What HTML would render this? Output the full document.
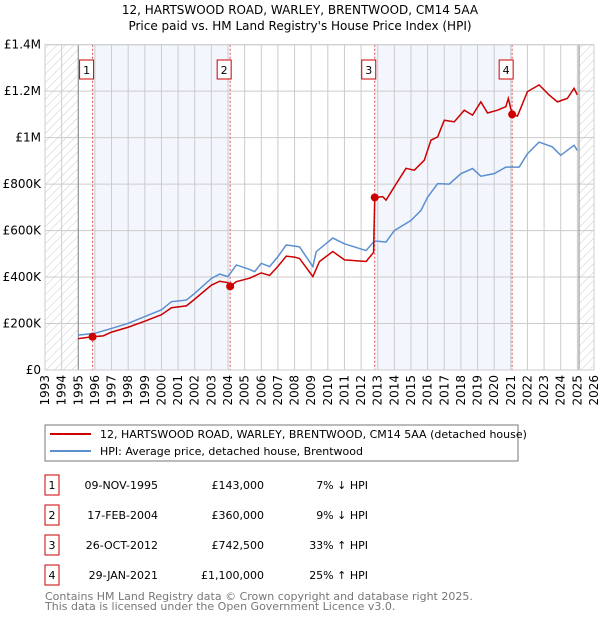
<!DOCTYPE html>
<html><head><meta charset="utf-8"><style>
body{margin:0;background:#fff;font-family:"DejaVu Sans","Liberation Sans",sans-serif;}
svg text{font-family:"DejaVu Sans","Liberation Sans",sans-serif;}
</style></head><body>
<svg id="c" width="600" height="620" xmlns="http://www.w3.org/2000/svg">
<defs><pattern id="h" width="6" height="6" patternUnits="userSpaceOnUse" patternTransform="rotate(45)"><line x1="0" y1="0" x2="0" y2="6" stroke="#ccc" stroke-width="1"/></pattern></defs>
<text x="300" y="14" text-anchor="middle" font-size="12">12, HARTSWOOD ROAD, WARLEY, BRENTWOOD, CM14 5AA</text>
<text x="300" y="30" text-anchor="middle" font-size="12">Price paid vs. HM Land Registry's House Price Index (HPI)</text>
<g id="plot"></g>
<rect x="45" y="425" width="473" height="36" fill="#fff" stroke="#777"/>
<line x1="50" y1="434" x2="91" y2="434" stroke="#cc0000" stroke-width="2"/>
<text x="100" y="438" font-size="11">12, HARTSWOOD ROAD, WARLEY, BRENTWOOD, CM14 5AA (detached house)</text>
<line x1="50" y1="451" x2="91" y2="451" stroke="#5b8fd0" stroke-width="2"/>
<text x="100" y="455" font-size="11">HPI: Average price, detached house, Brentwood</text>
<g id="tbl" font-size="11"></g>
<text x="45" y="600" font-size="11" fill="#777">Contains HM Land Registry data © Crown copyright and database right 2025.</text>
<text x="45" y="610" font-size="11" fill="#777">This data is licensed under the Open Government Licence v3.0.</text>
</svg>
<script>
const hpiYears=[1995,1996,1997,1998,1999,2000,2000.6,2001.5,2002,2003,2003.5,2004,2004.5,2005.3,2005.6,2006,2006.5,2007,2007.5,2008,2008.3,2009.1,2009.3,2010.3,2011,2012.3,2012.8,2013.5,2014,2015,2015.6,2016,2016.6,2017.3,2018,2018.7,2019.2,2020,2020.7,2021.5,2022,2022.7,2023.5,2024,2024.8,2025];
const hpiValues=[150,158,179,201,230,259,294,301,330,394,413,402,452,433,423,459,445,488,538,533,530,445,509,568,543,514,555,551,600,644,687,744,802,800,845,867,834,845,873,873,931,981,960,924,967,945];
const redYears=[1995,1995.86,1996.5,1997,1998,1999,2000,2000.6,2001.5,2002,2003,2003.5,2004.0,2004.13,2004.5,2005.3,2006,2006.5,2007,2007.5,2008,2008.3,2009.1,2009.5,2010.3,2011,2012.3,2012.75,2012.82,2013.3,2013.5,2014,2014.7,2015.2,2015.8,2016.2,2016.6,2017,2017.6,2018.2,2018.7,2019.2,2019.6,2020.2,2020.7,2020.85,2021.08,2021.4,2022,2022.7,2023.3,2023.8,2024.4,2024.8,2025];
const redValues=[135,143,147,163,184,210,238,268,276,305,365,382,376,360,380,395,418,407,446,490,486,480,402,467,510,474,467,506,742.5,746,731,789,868,860,903,989,1003,1075,1068,1118,1097,1154,1106,1118,1133,1169,1100,1093,1198,1227,1184,1154,1169,1212,1184];
const saleYears=[1995.86,2004.13,2012.82,2021.08];
const saleValues=[143,360,742.5,1100];
const saleLabels=["1","2","3","4"];
const saleDates=["09-NOV-1995","17-FEB-2004","26-OCT-2012","29-JAN-2021"];
const salePrices=["£143,000","£360,000","£742,500","£1,100,000"];
const saleDiffs=["7% ↓ HPI","9% ↓ HPI","33% ↑ HPI","25% ↑ HPI"];
const yTicks=[0,200,400,600,800,1000,1200,1400];
const yTickLabels=["£0","£200K","£400K","£600K","£800K","£1M","£1.2M","£1.4M"];
const NS="http://www.w3.org/2000/svg";
const X0=45,X1=594,Y0=370,Y1=44.7;
const xs=y=>X0+(y-1993)/33*(X1-X0);
const ys=v=>Y0-v/1400*(Y0-Y1);
const g=document.getElementById('plot');
function mk(t,a,p){const e=document.createElementNS(NS,t);for(const k in a)e.setAttribute(k,a[k]);(p||g).appendChild(e);return e;}
let e;
e=mk('rect',{x:X0,y:Y1,width:X1-X0,height:Y0-Y1,fill:'#fff'});


e=mk('rect',{x:xs(saleYears[0]),y:Y1,width:xs(saleYears[1])-xs(saleYears[0]),height:Y0-Y1,fill:'#f3f6fd'});


e=mk('rect',{x:xs(saleYears[2]),y:Y1,width:xs(saleYears[3])-xs(saleYears[2]),height:Y0-Y1,fill:'#f3f6fd'});


e=mk('rect',{x:X0,y:Y1,width:xs(1995)-X0,height:Y0-Y1,fill:'url(#h)'});


e=mk('rect',{x:xs(2025.1),y:Y1,width:X1-xs(2025.1),height:Y0-Y1,fill:'url(#h)'});


for(let yr=1993;yr<=2026;yr++){
  e=mk('line',{x1:xs(yr),x2:xs(yr),y1:Y1,y2:Y0,stroke:'#ccc'});
  
  
  e=mk('text',{x:0,y:0,'font-size':'12',transform:`translate(${xs(yr)+4},${Y0+5}) rotate(-90)`,'text-anchor':'end'});
  e.textContent=yr;
  
  
}
yTicks.forEach((v,i)=>{
  e=mk('line',{x1:X0,x2:X1,y1:ys(v),y2:ys(v),stroke:'#ccc'});
  
  
  e=mk('text',{x:X0-4,y:ys(v)+4,'font-size':'12','text-anchor':'end'});
  e.textContent=yTickLabels[i];
  
  
});
e=mk('line',{x1:xs(1995),x2:xs(1995),y1:Y1,y2:Y0,stroke:'#888'});


e=mk('line',{x1:xs(2025.1),x2:xs(2025.1),y1:Y1,y2:Y0,stroke:'#888'});


saleYears.forEach((yr,i)=>{
  e=mk('line',{x1:xs(yr),x2:xs(yr),y1:Y1,y2:Y0,stroke:'#e05050','stroke-dasharray':'2,2'});
  
  
  e=mk('rect',{x:xs(yr)-13,y:60,width:14,height:19,fill:'#fff',stroke:'#cc0000'});
  
  
  e=mk('text',{x:xs(yr)-6,y:74,'font-size':'11','text-anchor':'middle'});
  e.textContent=saleLabels[i];
  
  
});
e=mk('polyline',{points:hpiYears.map((y,i)=>xs(y)+','+ys(hpiValues[i])).join(' '),fill:'none',stroke:'#5b8fd0','stroke-width':1.5});


e=mk('polyline',{points:redYears.map((y,i)=>xs(y)+','+ys(redValues[i])).join(' '),fill:'none',stroke:'#cc0000','stroke-width':1.5});


saleYears.forEach((yr,i)=>{
  e=mk('circle',{cx:xs(yr),cy:ys(saleValues[i]),r:4,fill:'#cc0000'});
  
  
});
e=mk('rect',{x:X0,y:Y1,width:X1-X0,height:Y0-Y1,fill:'none',stroke:'#ccc'});


const t=document.getElementById('tbl');
saleLabels.forEach((l,i)=>{
  const cy=487+i*30;
  e=mk('rect',{x:45,y:cy-12,width:14,height:20,fill:'#fff',stroke:'#cc0000'},t);
  
  
  e=mk('text',{x:52,y:cy+2,'text-anchor':'middle'},t);e.textContent=l;
  
  
  e=mk('text',{x:158,y:cy+2,'text-anchor':'end'},t);e.textContent=saleDates[i];
  
  
  e=mk('text',{x:264,y:cy+2,'text-anchor':'end'},t);e.textContent=salePrices[i];
  
  
  e=mk('text',{x:368,y:cy+2,'text-anchor':'end'},t);e.textContent=saleDiffs[i];
  
  
});
</script>
</body></html>
